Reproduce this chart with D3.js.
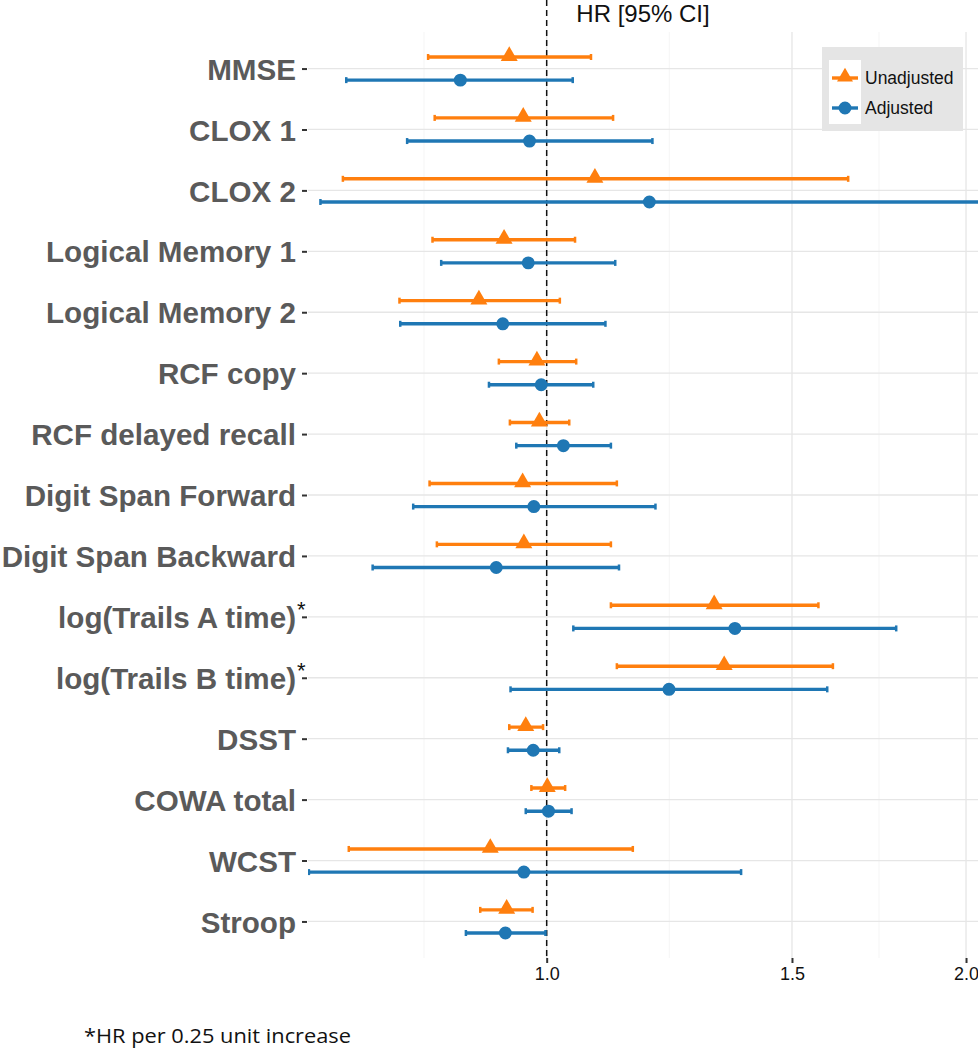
<!DOCTYPE html>
<html>
<head>
<meta charset="utf-8">
<script src="https://cdn.jsdelivr.net/npm/d3@7"></script>
<style>
  body { margin: 0; background: #fff; }
  svg { display: block; }
</style>
</head>
<body>
<script>
// cognitive tests, top to bottom
var tests = ["MMSE", "CLOX 1", "CLOX 2", "Logical Memory 1", "Logical Memory 2",
  "RCF copy", "RCF delayed recall", "Digit Span Forward", "Digit Span Backward",
  "log(Trails A time)", "log(Trails B time)", "DSST", "COWA total", "WCST", "Stroop"];
var starred = ["log(Trails A time)", "log(Trails B time)"];

// unadjusted HR and 95% CI
var hrUnadj = [0.940, 0.962, 1.083, 0.932, 0.894, 0.984, 0.988, 0.961, 0.963, 1.319, 1.341, 0.966, 1.001, 0.911, 0.936];
var loUnadj = [0.822, 0.831, 0.714, 0.828, 0.784, 0.924, 0.941, 0.824, 0.834, 1.112, 1.123, 0.940, 0.975, 0.721, 0.896];
var hiUnadj = [1.076, 1.116, 1.646, 1.048, 1.022, 1.050, 1.038, 1.123, 1.112, 1.567, 1.605, 0.994, 1.031, 1.153, 0.977];

// adjusted HR and 95% CI
var hrAdj = [0.867, 0.972, 1.185, 0.970, 0.930, 0.991, 1.028, 0.979, 0.920, 1.365, 1.224, 0.978, 1.003, 0.963, 0.934];
var loAdj = [0.718, 0.794, 0.688, 0.840, 0.785, 0.909, 0.951, 0.802, 0.750, 1.045, 0.942, 0.938, 0.966, 0.675, 0.875];
var hiAdj = [1.044, 1.191, 2.060, 1.120, 1.102, 1.080, 1.112, 1.197, 1.127, 1.782, 1.590, 1.021, 1.042, 1.379, 0.998];

var xTicks = [1.0, 1.5, 2.0];
var xMinor = [0.8165, 1.2247, 1.7321];
var seriesNames = ["Unadjusted", "Adjusted"];
var colors = { Unadjusted: "#ff7f0e", Adjusted: "#1f77b4" };

var width = 978, height = 1050;
var panel = { left: 308, right: 978, top: 32, bottom: 958 };

var svg = d3.select("body").append("svg")
  .attr("width", width)
  .attr("height", height)
  .style("font-family", "'Liberation Sans', Arial, sans-serif");

var x = d3.scaleLog()
  .domain([0.674, 2.04])
  .range([panel.left, panel.right]);

var y = d3.scalePoint()
  .domain(tests)
  .range([panel.top, panel.bottom])
  .padding(0.6);

var dodge = y.step() * 0.19;

// grid
var grid = svg.append("g");
grid.selectAll(".minor").data(xMinor).enter().append("line")
  .attr("x1", d => x(d)).attr("x2", d => x(d))
  .attr("y1", panel.top).attr("y2", panel.bottom)
  .attr("stroke", "#f2f2f2").attr("stroke-width", 0.8);
grid.selectAll(".major").data(xTicks).enter().append("line")
  .attr("x1", d => x(d)).attr("x2", d => x(d))
  .attr("y1", panel.top).attr("y2", panel.bottom)
  .attr("stroke", "#e6e6e6").attr("stroke-width", 1.3);
grid.selectAll(".hmajor").data(tests).enter().append("line")
  .attr("x1", panel.left).attr("x2", panel.right)
  .attr("y1", d => y(d)).attr("y2", d => y(d))
  .attr("stroke", "#e6e6e6").attr("stroke-width", 1.3);

// y axis
var yAxis = d3.axisLeft(y).tickSize(5).tickPadding(6);
var yg = svg.append("g")
  .attr("transform", `translate(${panel.left - 1},0)`)
  .call(yAxis);
yg.select(".domain").remove();
yg.selectAll(".tick line").attr("stroke", "#333").attr("stroke-width", 2);
yg.selectAll(".tick text")
  .attr("fill", "#5a5a5a")
  .attr("font-size", 29.6)
  .attr("font-weight", "bold")
  .attr("x", -11)
  .attr("dy", "0.36em");
yg.selectAll(".tick").filter(d => starred.includes(d))
  .append("text")
  .attr("x", -10)
  .attr("y", 0)
  .attr("text-anchor", "start")
  .attr("fill", "#111")
  .attr("font-size", 22)
  .text("*");

// x axis
var xAxis = d3.axisBottom(x).tickValues(xTicks).tickFormat(d3.format(".1f")).tickSize(5).tickPadding(4);
var xg = svg.append("g")
  .attr("transform", `translate(0,${panel.bottom})`)
  .call(xAxis);
xg.select(".domain").remove();
xg.selectAll(".tick line").attr("stroke", "#333").attr("stroke-width", 2);
xg.selectAll(".tick text").attr("fill", "#111").attr("font-size", 18);

// axis title on top
svg.append("text")
  .attr("x", (panel.left + panel.right) / 2)
  .attr("y", 22)
  .attr("text-anchor", "middle")
  .attr("font-size", 24)
  .attr("fill", "#111")
  .text("HR [95% CI]");

// reference line at HR = 1
svg.append("line")
  .attr("x1", x(1)).attr("x2", x(1))
  .attr("y1", panel.top - 32).attr("y2", panel.bottom)
  .attr("stroke", "#111")
  .attr("stroke-width", 1.5)
  .attr("stroke-dasharray", "6,4");

// build rows for each series
var rows = [];
tests.forEach(function(t, i) {
  rows.push({ test: t, s: "Unadjusted", hr: hrUnadj[i], lo: loUnadj[i], hi: hiUnadj[i], off: -dodge });
  rows.push({ test: t, s: "Adjusted", hr: hrAdj[i], lo: loAdj[i], hi: hiAdj[i], off: dodge });
});

var plot = svg.append("g");
svg.append("clipPath").attr("id", "panelclip")
  .append("rect")
  .attr("x", panel.left).attr("y", 0)
  .attr("width", panel.right - panel.left).attr("height", panel.bottom);
plot.attr("clip-path", "url(#panelclip)");

var caps = 3;
plot.selectAll(".ci").data(rows).enter().append("line")
  .attr("x1", d => x(d.lo)).attr("x2", d => x(d.hi))
  .attr("y1", d => y(d.test) + d.off).attr("y2", d => y(d.test) + d.off)
  .attr("stroke", d => colors[d.s]).attr("stroke-width", 3.4);

plot.selectAll(".capl").data(rows).enter().append("line")
  .attr("x1", d => x(d.lo)).attr("x2", d => x(d.lo))
  .attr("y1", d => y(d.test) + d.off - caps).attr("y2", d => y(d.test) + d.off + caps)
  .attr("stroke", d => colors[d.s]).attr("stroke-width", 2.5);
plot.selectAll(".caph").data(rows).enter().append("line")
  .attr("x1", d => x(d.hi)).attr("x2", d => x(d.hi))
  .attr("y1", d => y(d.test) + d.off - caps).attr("y2", d => y(d.test) + d.off + caps)
  .attr("stroke", d => colors[d.s]).attr("stroke-width", 2.5);

var tri = d3.symbol().type(d3.symbolTriangle).size(125);
var dot = d3.symbol().type(d3.symbolCircle).size(Math.PI * 42);
plot.selectAll(".pt").data(rows).enter().append("path")
  .attr("transform", d => `translate(${x(d.hr)},${y(d.test) + d.off - (d.s === "Unadjusted" ? 1 : 0)})`)
  .attr("d", d => d.s === "Unadjusted" ? tri() : dot())
  .attr("fill", d => colors[d.s]);

// legend
var lg = svg.append("g").attr("transform", "translate(822,47)");
lg.append("rect").attr("width", 141).attr("height", 84).attr("fill", "#e5e5e5");
lg.append("rect").attr("x", 7).attr("y", 13).attr("width", 32).attr("height", 64).attr("fill", "#fff");
seriesNames.forEach(function(s, i) {
  var ky = 31 + i * 30;
  lg.append("line").attr("x1", 10).attr("x2", 36).attr("y1", ky).attr("y2", ky)
    .attr("stroke", colors[s]).attr("stroke-width", 3.4);
  lg.append("path")
    .attr("transform", `translate(23,${ky - (i === 0 ? 1 : 0)})`)
    .attr("d", i === 0 ? d3.symbol().type(d3.symbolTriangle).size(110)() : dot())
    .attr("fill", colors[s]);
  lg.append("text").attr("x", 43).attr("y", ky).attr("dy", "0.36em")
    .attr("font-size", 17.5).attr("fill", "#111").text(s);
});

// footnote
svg.append("text")
  .attr("x", 84).attr("y", 1043)
  .attr("font-family", "'Open Sans', sans-serif")
  .attr("font-size", 20)
  .attr("fill", "#111")
  .attr("textLength", 267)
  .attr("lengthAdjust", "spacingAndGlyphs")
  .text("*HR per 0.25 unit increase");
</script>
</body>
</html>
